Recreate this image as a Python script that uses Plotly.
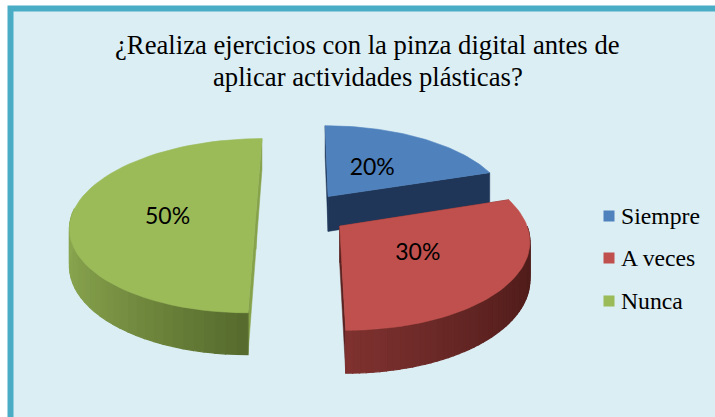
import math
import plotly.graph_objects as go

# ---- data ----
categories = ["Siempre", "A veces", "Nunca"]
percent = [20, 30, 50]
colors_top = ["#4f81bd", "#c0504d", "#9bbb59"]
colors_wall = ["#1f3658", "#5a2220", "#86a24a"]
rim_light = ["#2a4a75", "#803230", "#8aa64f"]
rim_dark = ["#1d3352", "#4e1c1a", "#566b2d"]
title_lines = ["¿Realiza ejercicios con la pinza digital antes de", "aplicar actividades plásticas?"]
title_y = [45, 77]
label_shift = [(-6, 5), (-6, 0), (7, 5)]
legend_y = [216, 258, 301]

# ---- projection of the tilted 3-D pie ----
VX, VY = 304, -385   # vanishing point
DIST = 600
K = 0.143
A = 184
H = 36
PULL = 0.25
CU, CV = -0.012, 0.02
SERIF = "Liberation Serif"


def project(u, v, z=0.0):
    s = 1 / (1 + K * v)
    return VX + A * u * s, VY + DIST * s + z * H * s


def mix(c1, c2, t):
    a = [int(c1[i:i + 2], 16) for i in (1, 3, 5)]
    b = [int(c2[i:i + 2], 16) for i in (1, 3, 5)]
    return "rgb(%d,%d,%d)" % tuple(round(x + (y - x) * t) for x, y in zip(a, b))


fig = go.Figure()


def poly(xs, ys, color, width=1.0):
    fig.add_trace(go.Scatter(x=xs, y=ys, mode="lines", fill="toself", fillcolor=color,
                             line=dict(color=color, width=width), hoverinfo="skip", showlegend=False))


total = sum(percent)
start = 0.0
slices = []
for i, p in enumerate(percent):
    sweep = 2 * math.pi * p / total
    slices.append((i, start, start + sweep))
    start += sweep

for i, a0, a1 in [slices[0], slices[2], slices[1]]:
    mid = (a0 + a1) / 2
    cu = CU + PULL * math.sin(mid)
    cv = CV + PULL * math.cos(mid)
    n = 60
    angs = [a0 + (a1 - a0) * j / n for j in range(n + 1)]
    rim = [(cu + math.sin(t), cv + math.cos(t)) for t in angs]
    # radial walls
    for (u, v) in (rim[0], rim[-1]):
        x0, y0 = project(cu, cv)
        x1, y1 = project(u, v)
        x2, y2 = project(u, v, 1)
        x3, y3 = project(cu, cv, 1)
        poly([x0, x1, x2, x3, x0], [y0, y1, y2, y3, y0], colors_wall[i], 0.5)
    # outer rim in shaded strips
    for j in range(n):
        t = angs[j]
        if math.cos(t) > 0.02:
            continue
        (u0, v0), (u1, v1) = rim[j], rim[j + 1]
        xa, ya = project(u0, v0)
        xb, yb = project(u1, v1)
        xc, yc = project(u1, v1, 1)
        xd, yd = project(u0, v0, 1)
        shade = abs(math.sin(t))
        col = mix(rim_dark[i], rim_light[i], shade) if i == 2 else mix(rim_light[i], rim_dark[i], shade)
        poly([xa, xb, xc, xd, xa], [ya, yb, yc, yd, ya], col, 1.2)
    # top
    pts = [project(cu, cv)] + [project(u, v) for u, v in rim] + [project(cu, cv)]
    fig.add_trace(go.Scatter(x=[q[0] for q in pts], y=[q[1] for q in pts], mode="lines", fill="toself",
                             fillcolor=colors_top[i], line=dict(color=colors_top[i], width=0.6),
                             name=categories[i], hoverinfo="name", showlegend=False))

# data labels
for i, a0, a1 in slices:
    mid = (a0 + a1) / 2
    r = 0.52
    cu = CU + (PULL + r) * math.sin(mid)
    cv = CV + (PULL + r) * math.cos(mid)
    x, y = project(cu, cv)
    fig.add_trace(go.Scatter(x=[x + label_shift[i][0]], y=[y + label_shift[i][1]], mode="text",
                             text=[f"{percent[i]}%"], textposition="middle center",
                             textfont=dict(family="Lato", size=23, color="#000000"),
                             hoverinfo="skip", showlegend=False))

# legend entries
for i, name in enumerate(categories):
    fig.add_trace(go.Scatter(x=[609], y=[legend_y[i]], mode="markers", name=name,
                             hoverinfo="name", showlegend=False,
                             marker=dict(symbol="square", size=11, color=colors_top[i])))

annotations = [dict(text=line, xref="paper", yref="paper", x=368 / 715, y=1 - yy / 417,
                    xanchor="center", yanchor="middle", showarrow=False,
                    font=dict(family=SERIF, size=26.7, color="#000000"))
               for line, yy in zip(title_lines, title_y)]
annotations += [dict(text=name, xref="x", yref="y", x=619, y=yy, xanchor="left", yanchor="middle",
                     showarrow=False, font=dict(family=SERIF, size=23.7, color="#000000"))
                for name, yy in zip(categories, legend_y)]

fig.update_layout(
    width=715, height=417, margin=dict(l=0, r=0, t=0, b=0),
    paper_bgcolor="#ffffff", plot_bgcolor="rgba(0,0,0,0)",
    xaxis=dict(range=[0, 715], visible=False, fixedrange=True),
    yaxis=dict(range=[417, 0], visible=False, fixedrange=True),
    shapes=[dict(type="rect", xref="paper", yref="paper", layer="below",
                 x0=10.5 / 715, x1=1.02, y0=-0.05, y1=1 - 8.5 / 417,
                 fillcolor="#dbeef4", line=dict(color="#4bacc6", width=6))],
    annotations=annotations,
    showlegend=False,
)
fig.write_html("out.html", config={"displayModeBar": False},
               post_script="document.body.style.margin='0';document.documentElement.style.overflow='hidden';")
